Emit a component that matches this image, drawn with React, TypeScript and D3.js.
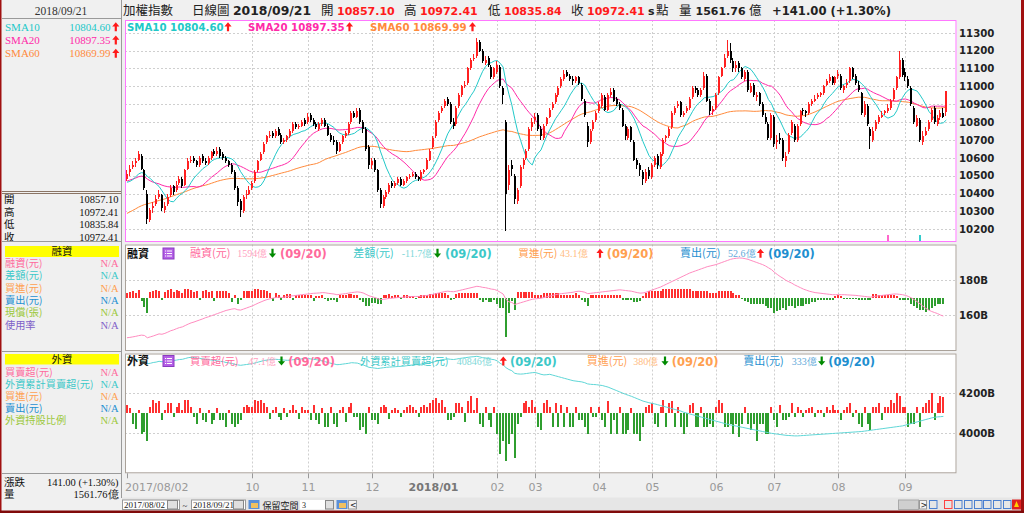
import React from 'react';
import * as d3 from 'd3';

// ---------------- DATA ----------------
const tickLabels = ['2017/08/02', '10', '11', '12', '2018/01', '02', '03', '04', '05', '06', '07', '08', '09'];
const tickIndex = [0, 43, 62, 84, 105, 127, 140, 162, 180, 202, 222, 244, 267];
const boldTick = '2018/01';
const priceTicks = [11300, 11200, 11100, 11000, 10900, 10800, 10700, 10600, 10500, 10400, 10300, 10200];
const marginTicks = [1800, 1600];
const marginTickLabels = ['180B', '160B'];
const foreignTicks = [42000, 40000];
const foreignTickLabels = ['4200B', '4000B'];
const reserveSlots = 3;

// closes before 2017/08/02 (needed for the moving averages)
const priorCloses = [
  10030, 10050, 10040, 10060, 10080, 10050, 10020, 10010, 10060, 10080, 10100, 10090, 10050, 10030, 10040, 10060,
  10100, 10130, 10150, 10170, 10200, 10190, 10230, 10260, 10300, 10330, 10350, 10320, 10290, 10280, 10310, 10340, 10360, 10390, 10400, 10420, 10395,
  10400, 10380, 10390, 10420, 10450, 10460, 10480, 10470, 10500, 10520, 10510, 10480, 10470, 10490, 10460, 10430, 10450, 10470, 10460, 10440, 10430,
  10490,
];

const opens = [
  10480, 10520, 10550, 10570, 10590, 10610, 10530, 10400, 10250, 10320, 10340, 10380, 10390, 10310, 10340, 10390, 10440, 10420, 10460, 10480, 10450, 10540,
  10590, 10600, 10580, 10560, 10610, 10580, 10570, 10600, 10640, 10620, 10650, 10620, 10600, 10580, 10560, 10520, 10430, 10360, 10300, 10390, 10400,
  10430, 10470, 10530, 10590, 10630, 10690, 10720, 10740, 10720, 10760, 10730, 10690, 10700, 10720, 10750, 10790, 10770, 10780, 10810,
  10800, 10840, 10810, 10790, 10760, 10790, 10810, 10780, 10730, 10700, 10690, 10640, 10690, 10720, 10740, 10800, 10850, 10830, 10870, 10800, 10760, 10660,
  10560, 10590, 10530, 10420, 10330, 10380, 10410, 10460, 10440, 10460, 10480, 10450, 10470, 10490, 10500, 10510, 10490, 10480, 10520, 10540, 10590,
  10660, 10720, 10810, 10860, 10890, 10930, 10900, 10800, 10790, 10890, 10950, 11010, 11020, 11100, 11160, 11170, 11250, 11200, 11130, 11160, 11110, 11050,
  11080, 11110, 10990, 10800, 10450, 10560, 10500, 10360, 10440, 10560, 10600, 10650, 10770,
  10810, 10840, 10760, 10710, 10790, 10830, 10880, 10910, 10950, 11000, 11040, 11080, 11060, 11040, 11030, 11050, 11010, 10920, 10780, 10690, 10760, 10810,
  10860, 10890, 10940, 10870, 10950, 10980, 10930, 10900, 10870, 10780, 10710, 10770, 10690, 10590, 10560, 10520, 10470, 10530,
  10490, 10560, 10610, 10550, 10620, 10710, 10720, 10770, 10850, 10890, 10910, 10840, 10860, 10880, 10940, 10990, 10980, 10950, 10990, 11060, 10920, 10860,
  10880, 10960, 11060, 11110, 11170, 11200, 11140, 11100, 11130, 11100, 11040, 11080, 10970, 11010, 10940, 10960, 10900, 10830, 10790, 10710,
  10830, 10690, 10710, 10700, 10580, 10630, 10740, 10780, 10700, 10790, 10870, 10860, 10850, 10900, 10920, 10940, 10950, 10960, 11010, 11030, 11050, 11020,
  11060, 11060, 10980, 11010, 11030, 11100, 11060, 11010, 10960, 10840, 10890, 10760, 10700, 10760, 10800, 10830, 10850, 10860, 10880, 10930, 10990, 11050, 11150,
  11080, 11040, 10990, 10880, 10780, 10810, 10690, 10730, 10760, 10810, 10880, 10790, 10830, 10850, 10857,
];
const highs = [
  10530, 10560, 10580, 10600, 10640, 10620, 10540, 10420, 10320, 10350, 10390, 10420, 10400, 10350, 10400, 10450, 10450, 10470, 10500, 10490, 10540, 10600,
  10610, 10610, 10590, 10610, 10620, 10600, 10610, 10640, 10650, 10660, 10660, 10630, 10610, 10590, 10570, 10530, 10440, 10370, 10390, 10420, 10440,
  10470, 10530, 10590, 10630, 10690, 10730, 10750, 10750, 10760, 10770, 10740, 10710, 10730, 10760, 10800, 10800, 10790, 10810, 10820,
  10850, 10850, 10820, 10800, 10800, 10820, 10820, 10790, 10740, 10720, 10700, 10690, 10730, 10750, 10800, 10860, 10860, 10880, 10880, 10810, 10770, 10670,
  10600, 10600, 10540, 10430, 10390, 10420, 10460, 10470, 10470, 10490, 10490, 10480, 10500, 10510, 10520, 10520, 10500, 10530, 10540, 10600, 10650,
  10720, 10810, 10860, 10890, 10930, 10940, 10910, 10820, 10890, 10960, 11010, 11030, 11110, 11160, 11180, 11270, 11260, 11210, 11170, 11170, 11120, 11110,
  11140, 11120, 11000, 10810, 10560, 10590, 10510, 10430, 10560, 10600, 10650, 10770, 10820,
  10850, 10850, 10780, 10790, 10830, 10880, 10910, 10960, 11000, 11050, 11090, 11090, 11070, 11060, 11060, 11060, 11020, 10930, 10800, 10760, 10810, 10860,
  10910, 10960, 10950, 10960, 10990, 10990, 10940, 10910, 10880, 10790, 10770, 10780, 10700, 10600, 10570, 10530, 10540, 10550,
  10570, 10610, 10620, 10630, 10710, 10730, 10770, 10860, 10890, 10920, 10920, 10860, 10890, 10940, 11000, 11000, 10990, 10990, 11080, 11070, 10930, 10890,
  10960, 11060, 11110, 11180, 11260, 11240, 11160, 11140, 11140, 11110, 11090, 11090, 11020, 11020, 10970, 10970, 10910, 10850, 10800, 10850,
  10840, 10730, 10740, 10710, 10630, 10740, 10810, 10790, 10790, 10870, 10880, 10870, 10910, 10930, 10950, 10960, 10970, 11010, 11040, 11070, 11060, 11060,
  11090, 11070, 11010, 11040, 11110, 11110, 11070, 11030, 10970, 10920, 10900, 10770, 10770, 10810, 10840, 10860, 10870, 10900, 10930, 10990, 11060, 11200, 11160,
  11100, 11060, 11000, 10890, 10840, 10820, 10750, 10770, 10810, 10880, 10890, 10840, 10870, 10880, 10972,
];
const lows = [
  10470, 10500, 10540, 10550, 10580, 10530, 10420, 10230, 10240, 10290, 10330, 10370, 10300, 10290, 10330, 10380, 10390, 10410, 10450, 10430, 10440, 10530,
  10570, 10570, 10550, 10550, 10570, 10560, 10560, 10590, 10610, 10610, 10600, 10590, 10570, 10550, 10510, 10420, 10330, 10270, 10290, 10370, 10390,
  10420, 10460, 10520, 10580, 10620, 10680, 10710, 10710, 10710, 10720, 10680, 10680, 10690, 10710, 10740, 10760, 10760, 10770, 10780,
  10790, 10800, 10780, 10760, 10750, 10780, 10770, 10720, 10690, 10670, 10620, 10630, 10680, 10710, 10730, 10790, 10820, 10820, 10790, 10740, 10640, 10540,
  10540, 10520, 10410, 10320, 10320, 10370, 10400, 10430, 10430, 10450, 10440, 10440, 10460, 10480, 10490, 10480, 10470, 10470, 10510, 10530, 10580,
  10650, 10710, 10800, 10850, 10880, 10890, 10790, 10760, 10780, 10880, 10940, 10990, 11010, 11090, 11140, 11160, 11190, 11130, 11120, 11110, 11040, 11040,
  11070, 10990, 10900, 10190, 10420, 10500, 10340, 10340, 10430, 10540, 10590, 10640, 10750,
  10790, 10750, 10700, 10700, 10780, 10820, 10870, 10900, 10940, 10990, 11030, 11050, 11030, 11010, 11020, 11010, 10920, 10830, 10660, 10680, 10750, 10800,
  10850, 10880, 10860, 10860, 10940, 10910, 10890, 10870, 10770, 10700, 10700, 10690, 10580, 10540, 10500, 10450, 10460, 10480,
  10480, 10550, 10540, 10540, 10610, 10690, 10710, 10760, 10840, 10880, 10830, 10830, 10850, 10870, 10930, 10960, 10940, 10940, 10980, 10910, 10840, 10840,
  10870, 10950, 11050, 11100, 11160, 11130, 11080, 11080, 11080, 11040, 11030, 10970, 10960, 10940, 10920, 10890, 10830, 10790, 10700, 10700,
  10660, 10650, 10680, 10580, 10550, 10620, 10730, 10690, 10690, 10780, 10840, 10830, 10840, 10890, 10910, 10930, 10940, 10950, 11000, 11020, 11010, 11010,
  11040, 10980, 10960, 10990, 11020, 11040, 11010, 10970, 10840, 10830, 10780, 10650, 10690, 10750, 10790, 10820, 10840, 10850, 10870, 10920, 10980, 11040, 11050,
  11030, 10990, 10890, 10790, 10770, 10690, 10670, 10720, 10750, 10800, 10790, 10780, 10810, 10820, 10836,
];
const closes = [
  10510, 10540, 10560, 10580, 10620, 10540, 10430, 10260, 10310, 10330, 10370, 10400, 10320, 10330, 10380, 10430, 10410, 10450, 10480, 10440, 10530, 10580,
  10590, 10580, 10560, 10600, 10580, 10570, 10600, 10630, 10620, 10640, 10610, 10600, 10580, 10560, 10520, 10430, 10350, 10310, 10380, 10400, 10420,
  10460, 10520, 10580, 10620, 10680, 10720, 10730, 10720, 10750, 10730, 10690, 10700, 10720, 10750, 10790, 10770, 10780, 10800, 10790,
  10830, 10810, 10790, 10770, 10790, 10810, 10780, 10730, 10700, 10690, 10640, 10680, 10720, 10740, 10790, 10850, 10830, 10860, 10800, 10760, 10650, 10560,
  10580, 10530, 10420, 10340, 10380, 10410, 10450, 10440, 10460, 10480, 10450, 10470, 10490, 10500, 10510, 10490, 10480, 10520, 10530, 10590, 10640,
  10710, 10800, 10850, 10880, 10920, 10900, 10800, 10780, 10880, 10950, 11000, 11010, 11100, 11150, 11160, 11250, 11200, 11140, 11150, 11120, 11050, 11100,
  11120, 11000, 10950, 10400, 10530, 10540, 10370, 10420, 10550, 10590, 10640, 10760, 10800,
  10830, 10760, 10720, 10780, 10820, 10870, 10900, 10950, 10990, 11040, 11070, 11060, 11040, 11030, 11050, 11020, 10930, 10840, 10690, 10750, 10800, 10850,
  10900, 10950, 10870, 10950, 10970, 10920, 10900, 10880, 10780, 10720, 10760, 10700, 10590, 10560, 10530, 10480, 10520, 10500,
  10560, 10600, 10560, 10620, 10700, 10720, 10760, 10850, 10880, 10900, 10840, 10850, 10880, 10930, 10990, 10980, 10950, 10980, 11060, 10920, 10860, 10875,
  10950, 11050, 11100, 11160, 11200, 11150, 11100, 11120, 11100, 11050, 11080, 10980, 11000, 10950, 10950, 10900, 10840, 10800, 10710, 10837,
  10680, 10700, 10700, 10600, 10610, 10730, 10800, 10700, 10780, 10860, 10860, 10850, 10900, 10920, 10930, 10950, 10960, 11000, 11030, 11050, 11020, 11050,
  11070, 10990, 11000, 11020, 11100, 11050, 11020, 10980, 10850, 10900, 10790, 10720, 10750, 10800, 10830, 10840, 10860, 10880, 10920, 10980, 11050, 11150, 11063,
  11050, 11000, 10900, 10800, 10820, 10700, 10720, 10750, 10800, 10870, 10800, 10820, 10850, 10831, 10972,
];

// 融資餘額 (億) and daily change (億), through 09/20
const marginBalance = [
  1470, 1472, 1475, 1478, 1482, 1485, 1483, 1470, 1475, 1480, 1486, 1492, 1490, 1495, 1502, 1510, 1515, 1522, 1528, 1532, 1540, 1548,
  1555, 1560, 1566, 1572, 1578, 1585, 1590, 1596, 1602, 1608, 1614, 1620, 1626, 1630, 1634, 1636, 1630, 1628, 1634, 1640, 1646,
  1652, 1660, 1668, 1675, 1682, 1688, 1692, 1696, 1700, 1702, 1700, 1702, 1705, 1708, 1710, 1712, 1714, 1716, 1718,
  1720, 1722, 1724, 1725, 1726, 1728, 1727, 1724, 1722, 1720, 1716, 1718, 1720, 1722, 1725, 1728, 1730, 1732, 1730, 1726, 1718, 1710,
  1705, 1700, 1694, 1688, 1690, 1692, 1695, 1696, 1698, 1700, 1700, 1702, 1704, 1705, 1706, 1706, 1706, 1708, 1710, 1712, 1715,
  1718, 1722, 1726, 1730, 1734, 1736, 1734, 1733, 1736, 1740, 1744, 1748, 1752, 1756, 1760, 1764, 1762, 1758, 1756, 1752, 1748, 1746,
  1740, 1730, 1720, 1690, 1675, 1672, 1660, 1665, 1670, 1675, 1680, 1685, 1690,
  1692, 1694, 1696, 1700, 1704, 1708, 1712, 1716, 1720, 1722, 1724, 1726, 1728, 1730, 1734, 1736, 1734, 1730, 1722, 1724, 1726, 1728,
  1730, 1732, 1734, 1736, 1738, 1740, 1742, 1744, 1742, 1740, 1738, 1736, 1732, 1728, 1725, 1726, 1730, 1736,
  1742, 1748, 1754, 1760, 1768, 1776, 1784, 1792, 1800, 1808, 1816, 1824, 1832, 1840, 1846, 1852, 1858, 1864, 1870, 1876, 1880, 1884,
  1888, 1894, 1900, 1906, 1912, 1918, 1922, 1924, 1926, 1925, 1922, 1918, 1912, 1906, 1900, 1894, 1888, 1880, 1870, 1860,
  1845, 1832, 1820, 1810, 1798, 1790, 1782, 1772, 1764, 1756, 1748, 1742, 1736, 1732, 1728, 1726, 1724, 1722, 1720, 1718, 1716, 1716,
  1716, 1716, 1716, 1715, 1714, 1713, 1712, 1710, 1708, 1706, 1704, 1702, 1705, 1708, 1710, 1712, 1714, 1716, 1718, 1720, 1720, 1718, 1716,
  1712, 1706, 1698, 1688, 1676, 1664, 1650, 1638, 1628, 1620, 1614, 1608, 1600, 1594,
];
const marginChange = [
  8, 10, 12, 9, 14, -6, -18, -30, 10, 12, 14, 12, -5, 10, 14, 16, 10, 14, 12, 8, 16, 16,
  14, 10, 12, -4, 12, 14, 10, 12, -6, 12, 12, 12, 12, 8, -8, 4, -12, -4, 12, 12, 12,
  12, 16, 16, 14, 14, 12, 8, -6, 8, 4, -4, 4, 6, 6, -4, 4, 4, 4, 4,
  4, 4, -6, 2, 2, 4, -2, -6, -4, -4, -8, 4, 4, 4, 6, 6, 4, 4, -4, -8, -16, -16,
  -10, -10, -12, -12, 4, 4, 6, 2, 4, 4, -2, 4, 4, 2, 2, -2, 2, 4, 4, 4, 6,
  6, 8, 8, 8, 8, 4, -4, -2, 6, 8, 8, 8, 8, 8, 8, 8, -4, -8, -4, -8, -8, -4,
  -12, -20, -20, -75, -30, -6, -24, 10, 10, 10, 10, 10, 10,
  4, 4, 4, 8, 8, 8, 8, 8, 8, 4, 4, 4, 4, 4, 8, 4, -4, -8, -16, 4, 4, 4,
  4, 4, 4, 4, 4, 4, 4, 4, -4, -4, -4, -4, -8, -8, -6, 2, 8, 12,
  12, 12, 12, 12, 16, 16, 16, 16, 16, 16, 16, 16, 16, 16, 12, 12, 12, 12, 12, 12, 8, 8,
  8, 12, 12, 12, 12, 12, 8, 4, 4, -2, -6, -8, -12, -12, -12, -12, -12, -16, -20, -20,
  -30, -26, -24, -20, -24, -16, -16, -20, -16, -16, -16, -12, -12, -8, -8, -4, -4, -4, -4, -4, -4, 2,
  4, 2, -2, -2, -2, -2, -2, -4, -4, -4, -4, -4, 6, 6, 4, 4, 4, 4, 4, 4, 2, -4, -4,
  -4, -4, -12, -16, -20, -24, -24, -28, -24, -20, -16, -12, -12, -12,
];

// 外資買賣超 (億) and 外資累計買賣超 (億), through 09/20
const foreignNet = [
  25, 15, -30, -45, 10, -60, -55, -80, 20, 40, 30, 35, -20, 10, 30, 30, -10, 20, 30, 10, 40, 40,
  20, -10, -30, 15, -20, -25, 10, -30, -20, 15, -20, -20, -40, 10, -30, -40, -30, -20, 20, 25, 20,
  20, 40, 35, 40, 30, 20, -15, 10, 20, -10, -20, 15, -10, 10, 25, 10, -15, 20, 10,
  10, -20, 25, -20, -30, 15, -40, -40, 20, -30, -40, 10, 20, -25, 20, 30, -10, -10, -50, -40, -60, 20,
  -20, -20, -30, 20, 25, 20, -15, 10, 15, 10, -10, 10, 20, 25, 20, 10, -10, 20, 25, 20, 30,
  40, 45, 30, 40, 20, -20, -20, -10, 30, 30, 20, -25, 35, 50, 10, 45, -30, -40, 20, -20, -40, 20,
  -60, -120, -80, -140, -90, -60, -130, -30, -10, 30, 35, 20, 40,
  20, -40, -50, 30, 40, 20, -40, 30, -40, 25, -40, 20, -40, -40, 20, -20, -20, -40, -60, 20, -10, -10,
  20, -20, -40, 35, -60, -20, -60, 20, -60, -60, -50, 15, -60, -60, -80, -40, 20, 25,
  30, -30, -40, 20, 40, -40, 30, 35, -40, 20, -40, -60, -40, 25, 30, -40, -40, 20, -40, -40, -30, -40,
  20, 40, 30, -40, -40, -30, -60, -30, -70, -30, 20, -30, -50, -30, -80, -30, -30, -60, -60, 20,
  -20, -40, 25, -20, -20, -10, 30, -10, 20, 10, -10, 10, 15, 20, -10, 10, 10, -10, 20, 10, 25, 10,
  10, -20, 10, 20, 30, -10, 10, -30, -40, 20, -30, -50, 20, 20, 30, -20, 20, 20, 40, 30, 60, 50, 20,
  20, -40, -30, -30, 20, -40, 20, 30, 40, 60, -20, 30, 50, 47,
];
const foreignCum = [
  43815, 43790, 43760, 43700, 43680, 43620, 43560, 43480, 43500, 43540, 43560, 43600, 43580, 43590, 43620, 43650, 43640, 43660, 43690, 43700, 43740, 43780,
  43800, 43790, 43760, 43740, 43720, 43700, 43690, 43660, 43640, 43620, 43600, 43580, 43540, 43520, 43490, 43450, 43420, 43400, 43420, 43440, 43460,
  43480, 43520, 43560, 43600, 43640, 43660, 43680, 43690, 43700, 43690, 43670, 43660, 43650, 43660, 43680, 43690, 43700, 43720, 43730,
  43740, 43720, 43700, 43680, 43650, 43620, 43580, 43540, 43500, 43470, 43430, 43440, 43460, 43480, 43500, 43530, 43520, 43510, 43460, 43420, 43360, 43300,
  43280, 43260, 43240, 43260, 43280, 43300, 43310, 43320, 43330, 43340, 43350, 43360, 43380, 43400, 43420, 43430, 43440, 43460, 43480, 43500, 43520,
  43560, 43600, 43640, 43680, 43700, 43720, 43700, 43690, 43710, 43740, 43760, 43780, 43800, 43820, 43830, 43850, 43820, 43780, 43760, 43740, 43700, 43680,
  43620, 43500, 43420, 43280, 43190, 43130, 43000, 42970, 42960, 42970, 42990, 43010, 43030,
  43040, 43000, 42950, 42920, 42930, 42950, 42910, 42870, 42830, 42790, 42750, 42710, 42670, 42630, 42610, 42590, 42570, 42530, 42470, 42450, 42440, 42430,
  42410, 42390, 42350, 42310, 42250, 42190, 42130, 42070, 42010, 41950, 41900, 41850, 41790, 41730, 41670, 41610, 41570, 41530,
  41500, 41470, 41430, 41390, 41350, 41310, 41270, 41230, 41190, 41150, 41110, 41050, 41010, 40970, 40930, 40890, 40850, 40810, 40770, 40730, 40690, 40650,
  40610, 40570, 40530, 40490, 40450, 40420, 40390, 40360, 40330, 40300, 40270, 40240, 40210, 40180, 40150, 40120, 40090, 40060, 40030, 40000,
  39980, 39960, 39940, 39920, 39900, 39890, 39880, 39870, 39870, 39880, 39890, 39900, 39910, 39920, 39930, 39940, 39950, 39960, 39970, 39980, 39990, 40000,
  40010, 40020, 40030, 40040, 40050, 40060, 40070, 40080, 40090, 40110, 40130, 40150, 40170, 40190, 40210, 40230, 40250, 40270, 40290, 40310, 40330, 40350, 40370,
  40410, 40450, 40490, 40530, 40570, 40610, 40650, 40690, 40730, 40770, 40800, 40820, 40830, 40846,
];

const signalIdx = [261, 272];
const signalColors = ['#ff66cc', '#33cccc'];

// ---------------- STYLE ----------------
const CJK = '"Noto Sans CJK TC","Noto Sans CJK SC",sans-serif';
const SANS = '"DejaVu Sans",Verdana,sans-serif';
const SERIF = '"Liberation Serif","DejaVu Serif",serif';
const C10 = '#22c8c8';
const C20 = '#ff2aa8';
const C60 = '#ff8a3c';
const RED = '#ff1a1a';
const GRN = '#008a00';
const PINK = '#ff6a9c';
const CYAN = '#3cc8c8';
const ORANGE = '#ffa050';
const BLUE = '#1e8fd0';
const OLIVE = '#9cc83c';
const PURPLE = '#8060c8';
const BAR_UP = '#ff3030';
const BAR_DN = '#2f9e2f';
const GRID = '#cfcfcf';

const PX0 = 125, PX1 = 956.5;
const P1 = { top: 20, bottom: 242 };
const P2 = { top: 244.5, bottom: 351 };
const P3 = { top: 353.5, bottom: 473.3 };

function Arrow({ cx, cy, up, color }: { cx: number; cy: number; up: boolean; color: string }) {
  const s = up ? 1 : -1;
  const d = `M${cx},${cy - 4.5 * s}L${cx + 3.6},${cy - 0.3 * s}L${cx + 1.1},${cy - 0.3 * s}L${cx + 1.1},${cy + 4.5 * s}L${cx - 1.1},${cy + 4.5 * s}L${cx - 1.1},${cy - 0.3 * s}L${cx - 3.6},${cy - 0.3 * s}Z`;
  return <path d={d} fill={color} />;
}

function ListIcon({ x, y }: { x: number; y: number }) {
  return (
    <g>
      <rect x={x} y={y} width={11} height={11} fill="#b45ee6" stroke="#8a3cc0" />
      {[3, 5.5, 8].map((dy) => (
        <line key={dy} x1={x + 2} x2={x + 9} y1={y + dy} y2={y + dy} stroke="#fff" strokeWidth={1} />
      ))}
      <line x1={x + 3.5} x2={x + 3.5} y1={y + 2} y2={y + 9} stroke="#b45ee6" strokeWidth={0.8} />
    </g>
  );
}

function SeriesLabel({ lx, vx, ax, px, y, label, val, up, color, valColor, lfs = 11 }: any) {
  return (
    <g>
      <text x={lx} y={y + 4} fontFamily={CJK} fontSize={lfs} fill={color}>{label}</text>
      <text x={vx} y={y + 3.5} fontFamily={SERIF} fontSize={10} fill={valColor}>{val}</text>
      <Arrow cx={ax} cy={y} up={up} color={up ? RED : GRN} />
      <text x={px} y={y + 4.5} fontFamily={SANS} fontWeight="bold" fontSize={11.5} fill={color}>(09/20)</text>
    </g>
  );
}

export default function App() {
  const nSlots = closes.length + reserveSlots;
  const xb = d3.scaleBand<number>().domain(d3.range(nSlots)).range([PX0 + 0.5, PX1]);
  const cx = (i: number) => (xb(i) as number) + xb.bandwidth() / 2;

  const yP = d3.scaleLinear().domain([10200, 11300]).range([229.3, 32.7]);
  const yM = d3.scaleLinear().domain([1600, 1800]).range([315, 280]);
  const yMB = d3.scaleLinear().domain([-100, 100]).range([297.5 + 52.5, 297.5 - 52.5]);
  const yF = d3.scaleLinear().domain([40000, 42000]).range([433.3, 393.3]);
  const yFB = d3.scaleLinear().domain([-176, 176]).range([P3.bottom, P3.top]);

  const all = priorCloses.concat(closes);
  const sma = (n: number) =>
    closes.map((_, i) => {
      const end = priorCloses.length + i + 1;
      return d3.mean(all.slice(end - n, end)) as number;
    });
  const line = d3.line<number>().x((_, i) => cx(i)).y((v) => yP(v));
  const lineM = d3.line<number>().x((_, i) => cx(i)).y((v) => yM(v));
  const lineF = d3.line<number>().x((_, i) => cx(i)).y((v) => yF(v));

  const gridXs = tickIndex.slice(1).map((i) => Math.round(cx(i)) + 0.5);

  const vGrid = (top: number, bottom: number) =>
    gridXs.map((gx, k) => (
      <line key={k} x1={gx} x2={gx} y1={top} y2={bottom} stroke={GRID} strokeDasharray="2,2" />
    ));

  const sidebarRow = (label: string, val: string, color: string, cy: number, k: number) => (
    <g key={k}>
      <text x={5} y={cy + 3.6} fontFamily={CJK} fontSize={10.2} fill={color}>{label}</text>
      <text x={118.5} y={cy + 3.6} fontFamily={SERIF} fontSize={10.5} fill={color} textAnchor="end">{val}</text>
    </g>
  );

  return (
    <svg width={1024} height={513} style={{ position: 'fixed', left: 0, top: 0 }} xmlns="http://www.w3.org/2000/svg">
      <defs>
        <clipPath id="c1"><rect x={PX0} y={P1.top} width={PX1 - PX0} height={P1.bottom - P1.top} /></clipPath>
        <clipPath id="c2"><rect x={PX0} y={P2.top} width={PX1 - PX0} height={P2.bottom - P2.top} /></clipPath>
        <clipPath id="c3"><rect x={PX0} y={P3.top} width={PX1 - PX0} height={P3.bottom - P3.top} /></clipPath>
      </defs>
      <rect x={0} y={0} width={1024} height={513} fill="#f0f0f0" />

      {/* ---------- left sidebar ---------- */}
      <line x1={121.5} x2={121.5} y1={0} y2={498} stroke="#9a9a9a" />
      <line x1={2} x2={121} y1={18.5} y2={18.5} stroke="#9a9a9a" />
      <text x={61} y={14.5} fontFamily={SERIF} fontSize={11.5} fill="#333" textAnchor="middle">2018/09/21</text>
      {[
        ['SMA10', '10804.60', C10],
        ['SMA20', '10897.35', C20],
        ['SMA60', '10869.99', C60],
      ].map(([l, v, c], k) => {
        const cy = 26.7 + k * 13.3;
        return (
          <g key={k}>
            <text x={5} y={cy + 4} fontFamily={SERIF} fontSize={11} fill={c}>{l}</text>
            <text x={110.5} y={cy + 4} fontFamily={SERIF} fontSize={11} fill={c} textAnchor="end">{v}</text>
            <Arrow cx={115.8} cy={cy} up={true} color={RED} />
          </g>
        );
      })}
      <line x1={2} x2={121} y1={191.5} y2={191.5} stroke="#8b7565" strokeWidth={1} />
      <line x1={2} x2={121} y1={193.5} y2={193.5} stroke="#8b7565" strokeWidth={1} />
      {[
        ['開', '10857.10'],
        ['高', '10972.41'],
        ['低', '10835.84'],
        ['收', '10972.41'],
      ].map(([l, v], k) => {
        const cy = 199.5 + k * 12.4;
        return (
          <g key={k}>
            <text x={4} y={cy + 3.8} fontFamily={CJK} fontSize={10.5} fill="#111">{l}</text>
            <text x={118.5} y={cy + 3.8} fontFamily={SERIF} fontSize={10.5} fill="#111" textAnchor="end">{v}</text>
          </g>
        );
      })}
      <line x1={2} x2={121} y1={241.5} y2={241.5} stroke="#9a9a9a" />
      <rect x={5} y={246} width={114} height={11} fill="#ffff00" />
      <text x={62} y={255.3} fontFamily={CJK} fontSize={10.4} fill="#111" textAnchor="middle">融資</text>
      {[
        ['融資(元)', PINK],
        ['差額(元)', CYAN],
        ['買進(元)', ORANGE],
        ['賣出(元)', BLUE],
        ['現償(張)', OLIVE],
        ['使用率', PURPLE],
      ].map(([l, c], k) => sidebarRow(l, 'N/A', c, 263.5 + k * 12.3, k))}

      <line x1={2} x2={121} y1={351.5} y2={351.5} stroke="#9a9a9a" />
      <rect x={5} y={354} width={114} height={10.5} fill="#ffff00" />
      <text x={62} y={363} fontFamily={CJK} fontSize={10.4} fill="#111" textAnchor="middle">外資</text>
      {[
        ['買賣超(元)', PINK],
        ['外資累計買賣超(元)', CYAN],
        ['買進(元)', ORANGE],
        ['賣出(元)', BLUE],
        ['外資持股比例', OLIVE],
      ].map(([l, c], k) => sidebarRow(l, 'N/A', c, 372.7 + k * 12.0, k))}

      <line x1={2} x2={121} y1={473.5} y2={473.5} stroke="#9a9a9a" />
      <text x={4} y={486.3} fontFamily={CJK} fontSize={10.5} fill="#111">漲跌</text>
      <text x={118.5} y={486.3} fontFamily={SERIF} fontSize={10.5} fill="#111" textAnchor="end">141.00 (+1.30%)</text>
      <text x={4} y={497.5} fontFamily={CJK} fontSize={10.5} fill="#111">量</text>
      <text x={118.5} y={497.5} fontFamily={SERIF} fontSize={10.5} fill="#111" textAnchor="end">1561.76億</text>

      {/* ---------- header ---------- */}
      <g fontFamily={CJK} fontSize={12.5} fill="#222">
        <text x={123} y={15}>加權指數</text>
        <text x={192} y={15}>日線圖</text>
        <text x={321} y={15}>開</text>
        <text x={404} y={15}>高</text>
        <text x={488} y={15}>低</text>
        <text x={571} y={15}>收</text>
        <text x={656} y={15}>點</text>
        <text x={679} y={15}>量</text>
        <text x={749} y={15}>億</text>
      </g>
      <g fontFamily={SANS} fontWeight="bold" fontSize={11} fill={RED}>
        <text x={337} y={15}>10857.10</text>
        <text x={420} y={15}>10972.41</text>
        <text x={504} y={15}>10835.84</text>
        <text x={587} y={15}>10972.41</text>
      </g>
      <g fontFamily={SANS} fontWeight="bold" fontSize={11} fill="#222">
        <text x={233} y={15} fontSize={12.4}>2018/09/21</text>
        <text x={648} y={15}>s</text>
        <text x={695.5} y={15}>1561.76</text>
        <text x={772} y={15} fontSize={11.6}>+141.00 (+1.30%)</text>
      </g>

      {/* ---------- panels background ---------- */}
      <rect x={PX0} y={P1.top} width={PX1 - PX0} height={P1.bottom - P1.top} fill="#fff" />
      <rect x={PX0} y={P2.top} width={PX1 - PX0} height={P2.bottom - P2.top} fill="#fff" />
      <rect x={PX0} y={P3.top} width={PX1 - PX0} height={P3.bottom - P3.top} fill="#fff" />

      {/* ---------- price panel ---------- */}
      <g>
        {priceTicks.map((t) => (
          <line key={t} x1={PX0} x2={PX1} y1={Math.round(yP(t)) + 0.5} y2={Math.round(yP(t)) + 0.5} stroke={GRID} strokeDasharray="2,2" />
        ))}
        {vGrid(P1.top, P1.bottom)}
      </g>
      <g clipPath="url(#c1)">
        <path d={line(sma(60)) as string} fill="none" stroke={C60} strokeWidth={1} />
        <path d={line(sma(20)) as string} fill="none" stroke={C20} strokeWidth={1} />
        <path d={line(sma(10)) as string} fill="none" stroke={C10} strokeWidth={1} />
        {closes.map((c, i) => {
          const o = opens[i];
          const up = c >= o;
          const col = up ? '#ff2020' : '#000';
          const left = Math.round(cx(i) - 1);
          const yt = yP(Math.max(o, c));
          const yb = yP(Math.min(o, c));
          return (
            <g key={i} shapeRendering="crispEdges">
              <line x1={left + 0.5} x2={left + 0.5} y1={yP(highs[i])} y2={yP(lows[i])} stroke={col} />
              <rect x={left} y={yt} width={2} height={Math.max(1, yb - yt)} fill={col} />
            </g>
          );
        })}
        {signalIdx.map((si, k) => (
          <rect key={k} x={Math.round(cx(si)) - 1} y={P1.bottom - 7} width={2} height={7} fill={signalColors[k]} />
        ))}
      </g>
      <rect x={PX0 + 0.5} y={P1.top + 0.5} width={PX1 - PX0 - 1} height={P1.bottom - P1.top - 1} fill="none" stroke="#ff77ff" />
      {/* SMA legend */}
      <g fontFamily={SANS} fontWeight="bold" fontSize={10.2}>
        <text x={127} y={30.5} fill={C10}>SMA10 10804.60</text>
        <Arrow cx={228} cy={26.7} up={true} color={RED} />
        <text x={248} y={30.5} fill={C20}>SMA20 10897.35</text>
        <Arrow cx={349.5} cy={26.7} up={true} color={RED} />
        <text x={370} y={30.5} fill={C60}>SMA60 10869.99</text>
        <Arrow cx={472.5} cy={26.7} up={true} color={RED} />
      </g>
      {priceTicks.map((t) => (
        <text key={t} x={959} y={yP(t) + 3.8} fontFamily={SANS} fontWeight="bold" fontSize={10.2} fill="#222">{t}</text>
      ))}

      {/* ---------- margin panel ---------- */}
      {marginTicks.map((t) => (
        <line key={t} x1={PX0} x2={PX1} y1={Math.round(yM(t)) + 0.5} y2={Math.round(yM(t)) + 0.5} stroke={GRID} strokeDasharray="2,2" />
      ))}
      {vGrid(P2.top, P2.bottom)}
      <g clipPath="url(#c2)">
        {marginChange.map((v, i) => {
          const y0 = yMB(0);
          const y1 = yMB(v);
          return (
            <rect key={i} x={Math.round(cx(i) - 1)} y={Math.min(y0, y1)} width={2} height={Math.max(1, Math.abs(y1 - y0))} fill={v >= 0 ? BAR_UP : BAR_DN} shapeRendering="crispEdges" />
          );
        })}
        <path d={lineM(marginBalance) as string} fill="none" stroke="#ff8cc0" strokeWidth={1} />
      </g>
      <rect x={PX0 + 0.5} y={P2.top + 0.5} width={PX1 - PX0 - 1} height={P2.bottom - P2.top - 1} fill="none" stroke="#aaa29a" />
      {marginTicks.map((t, k) => (
        <text key={t} x={959} y={yM(t) + 3.8} fontFamily={SANS} fontWeight="bold" fontSize={10.2} fill="#222">{marginTickLabels[k]}</text>
      ))}
      <text x={127} y={257.5} fontFamily={CJK} fontWeight="bold" fontSize={11} fill="#111">融資</text>
      <ListIcon x={163} y={248} />
      <SeriesLabel y={253.3} lx={190} vx={237.3} ax={272.5} px={280} label="融資(元)" val="1594億" up={false} color={PINK} valColor="#ff9fc0" />
      <SeriesLabel y={253.3} lx={353.3} vx={401.7} ax={437.5} px={445} label="差額(元)" val="-11.7億" up={false} color={CYAN} valColor="#7fd8d8" />
      <SeriesLabel y={253.3} lx={518.3} vx={560} ax={600} px={606.7} label="買進(元)" val="43.1億" up={true} color={ORANGE} valColor="#ffbb80" lfs={10.6} />
      <SeriesLabel y={253.3} lx={680} vx={728} ax={760.5} px={768} label="賣出(元)" val="52.6億" up={true} color={BLUE} valColor="#60a8d8" />

      {/* ---------- foreign panel ---------- */}
      {foreignTicks.map((t) => (
        <line key={t} x1={PX0} x2={PX1} y1={Math.round(yF(t)) + 0.5} y2={Math.round(yF(t)) + 0.5} stroke={GRID} strokeDasharray="2,2" />
      ))}
      {vGrid(P3.top, P3.bottom)}
      <g clipPath="url(#c3)">
        {foreignNet.map((v, i) => {
          const y0 = yFB(0);
          const y1 = yFB(v);
          return (
            <rect key={i} x={Math.round(cx(i) - 1)} y={Math.min(y0, y1)} width={2} height={Math.max(1, Math.abs(y1 - y0))} fill={v >= 0 ? BAR_UP : BAR_DN} shapeRendering="crispEdges" />
          );
        })}
        <path d={lineF(foreignCum) as string} fill="none" stroke="#5fd6d6" strokeWidth={1} />
      </g>
      <rect x={PX0 + 0.5} y={P3.top + 0.5} width={PX1 - PX0 - 1} height={P3.bottom - P3.top - 1} fill="none" stroke="#aaa29a" />
      {foreignTicks.map((t, k) => (
        <text key={t} x={959} y={yF(t) + 3.8} fontFamily={SANS} fontWeight="bold" fontSize={10.2} fill="#222">{foreignTickLabels[k]}</text>
      ))}
      <text x={127} y={365} fontFamily={CJK} fontWeight="bold" fontSize={11} fill="#111">外資</text>
      <ListIcon x={163} y={355.5} />
      <SeriesLabel y={361} lx={190} vx={248.3} ax={281.5} px={288.3} label="買賣超(元)" val="47.1億" up={false} color={PINK} valColor="#ff9fc0" lfs={10.4} />
      <SeriesLabel y={361} lx={360} vx={456.7} ax={503.3} px={510} label="外資累計買賣超(元)" val="40846億" up={true} color={CYAN} valColor="#7fd8d8" lfs={10.2} />
      <SeriesLabel y={361} lx={586.7} vx={633.3} ax={665} px={671.7} label="買進(元)" val="380億" up={false} color={ORANGE} valColor="#ffbb80" />
      <SeriesLabel y={361} lx={743.3} vx={791.7} ax={821.7} px={828.3} label="賣出(元)" val="333億" up={false} color={BLUE} valColor="#60a8d8" />

      {/* ---------- x axis ---------- */}
      {tickIndex.map((ti, k) => {
        const tx = Math.round(cx(ti)) + 0.5;
        const lab = tickLabels[k];
        return (
          <g key={k}>
            <line x1={tx} x2={tx} y1={P3.bottom} y2={P3.bottom + 5} stroke="#999" />
            <text x={k === 0 ? PX0 : tx} y={491} fontFamily={SANS} fontSize={11} fontWeight={lab === boldTick ? 'bold' : 'normal'} fill={lab === boldTick ? '#777' : '#999'} textAnchor={k === 0 ? 'start' : 'middle'}>{lab}</text>
          </g>
        );
      })}

      {/* ---------- toolbar ---------- */}
      <rect x={122} y={497.5} width={900} height={13} fill="#e6e6e6" />
      <rect x={122.5} y={500} width={57} height={9.5} fill="#fff" stroke="#999" />
      <text x={124} y={508} fontFamily={SERIF} fontSize={9} fill="#222">2017/08/02</text>
      <rect x={167.5} y={500.5} width={10} height={8.5} fill="#e0e0e0" stroke="#888" />
      <text x={182.5} y={508.5} fontFamily={SERIF} fontSize={9} fill="#222">~</text>
      <rect x={191.5} y={500} width={54} height={9.5} fill="#fff" stroke="#999" />
      <text x={193} y={508} fontFamily={SERIF} fontSize={9} fill="#222">2018/09/21</text>
      <rect x={233.5} y={500.5} width={10} height={8.5} fill="#e0e0e0" stroke="#888" />
      <rect x={248.5} y={500} width={11} height={9} fill="#5a8fd8" />
      <rect x={251} y={503} width={7} height={5} fill="#f0c060" />
      <text x={262.5} y={508.5} fontFamily={CJK} fontSize={9} fill="#222">保留空間</text>
      <rect x={300} y={500} width={25} height={9.5} fill="#fff" />
      <text x={302} y={507.5} fontFamily={SERIF} fontSize={8} fill="#222">3</text>
      <rect x={325.5} y={500.5} width={8} height={8.5} fill="#e0e0e0" stroke="#888" />
      <rect x={336.5} y={500} width={11} height={9} fill="#5a8fd8" />
      <rect x={339} y={503} width={7} height={5} fill="#f0c060" />
      <rect x={348.5} y={500.5} width={8} height={8.5} fill="#f4f4f4" stroke="#999" />
      <text x={350} y={508} fontFamily={SANS} fontSize={8} fill="#222">&lt;</text>
      <rect x={898.5} y={500} width={20} height={9.5} fill="#cfcfcf" stroke="#aaa" />
      <rect x={919.5} y={500.5} width={7} height={8.5} fill="#f4f4f4" stroke="#999" />
      <text x={920.5} y={508} fontFamily={SANS} fontSize={8} fill="#222">&gt;</text>
      {[
        ['#4a7fd0', 928], ['#ff4040', 943], ['#4a7fd0', 953], ['#4a7fd0', 963], ['#4a7fd0', 973], ['#4a7fd0', 982], ['#4a7fd0', 992], ['#4a7fd0', 1002],
      ].map(([c, x], k) => (
        <rect key={k} x={(x as number) + 1.5} y={500.5} width={7.5} height={8} fill="none" stroke={c as string} />
      ))}
      <rect x={1012} y={499.5} width={9} height={10} fill="#e02020" />
      <path d="M1016.5,501 L1019,507 L1014,507 Z" fill="#ffd000" />

      {/* ---------- outer border ---------- */}
      <rect x={0} y={0} width={1.5} height={513} fill="#a01010" />
      <rect x={1021} y={0} width={3} height={513} fill="#a01010" />
      <rect x={0} y={510.5} width={1024} height={2.5} fill="#800a0a" />
    </svg>
  );
}
